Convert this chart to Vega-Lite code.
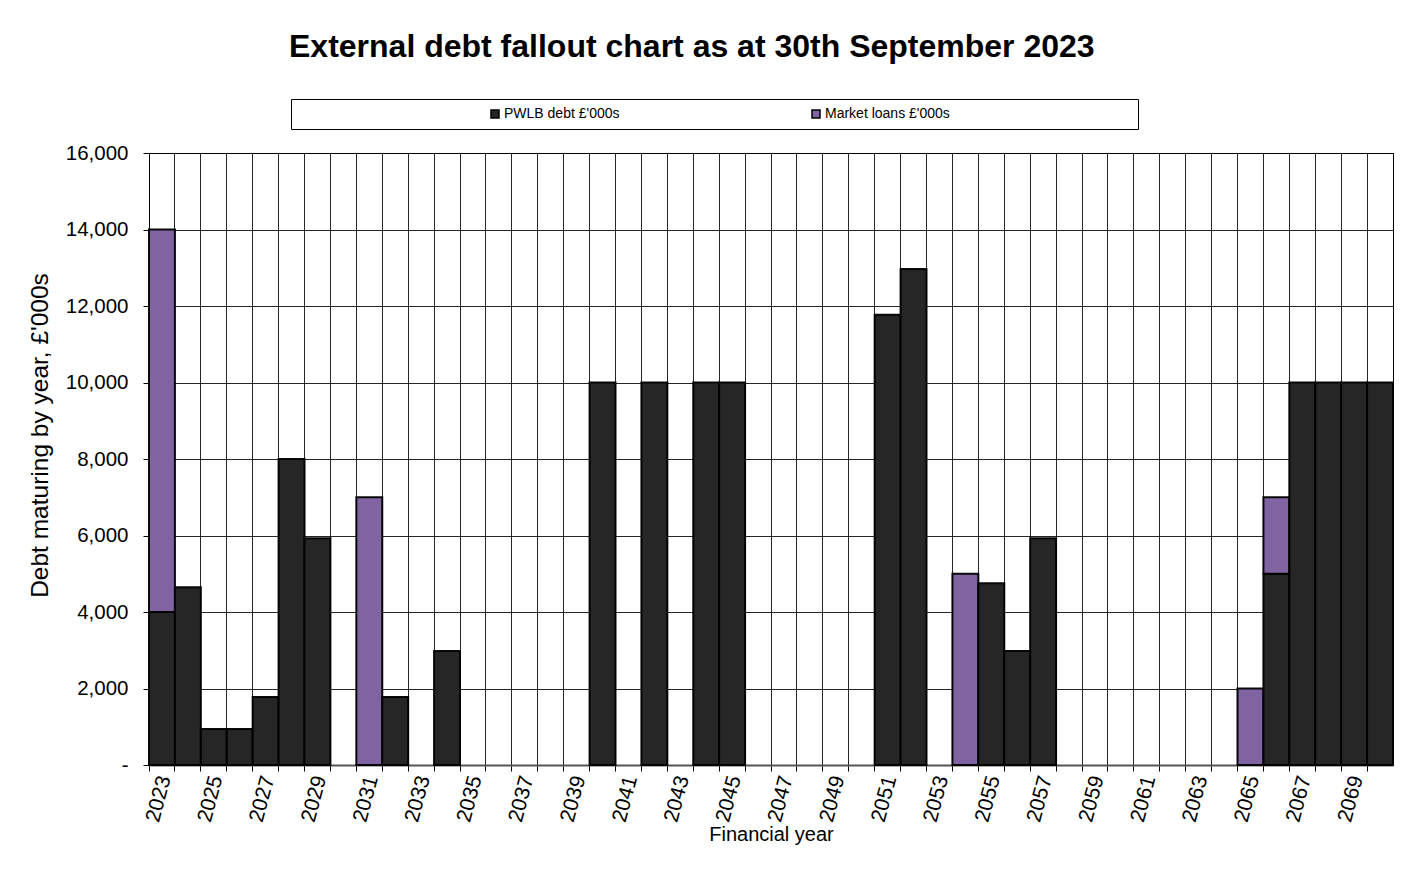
{
  "$schema": "https://vega.github.io/schema/vega-lite/v6.json",
  "width": 1244,
  "height": 612,
  "autosize": "none",
  "padding": {"left": 149, "top": 153, "right": 12, "bottom": 126},
  "background": "white",
  "title": {
    "text": "External debt fallout chart as at 30th September 2023",
    "font": "Liberation Sans",
    "fontSize": 32,
    "fontWeight": "bold",
    "color": "black",
    "anchor": "start",
    "frame": "group",
    "dx": 140,
    "baseline": "alphabetic",
    "offset": 10
  },
  "data": {
    "values": [
      {"year": 2023, "series": "PWLB debt £'000s", "value": 4000},
      {"year": 2023, "series": "Market loans £'000s", "value": 10000},
      {"year": 2024, "series": "PWLB debt £'000s", "value": 4650},
      {"year": 2025, "series": "PWLB debt £'000s", "value": 940},
      {"year": 2026, "series": "PWLB debt £'000s", "value": 940},
      {"year": 2027, "series": "PWLB debt £'000s", "value": 1780},
      {"year": 2028, "series": "PWLB debt £'000s", "value": 8000},
      {"year": 2029, "series": "PWLB debt £'000s", "value": 5930},
      {"year": 2031, "series": "Market loans £'000s", "value": 7000},
      {"year": 2032, "series": "PWLB debt £'000s", "value": 1780},
      {"year": 2034, "series": "PWLB debt £'000s", "value": 2980},
      {"year": 2040, "series": "PWLB debt £'000s", "value": 10000},
      {"year": 2042, "series": "PWLB debt £'000s", "value": 10000},
      {"year": 2044, "series": "PWLB debt £'000s", "value": 10000},
      {"year": 2045, "series": "PWLB debt £'000s", "value": 10000},
      {"year": 2051, "series": "PWLB debt £'000s", "value": 11770},
      {"year": 2052, "series": "PWLB debt £'000s", "value": 12970},
      {"year": 2054, "series": "Market loans £'000s", "value": 5000},
      {"year": 2055, "series": "PWLB debt £'000s", "value": 4750},
      {"year": 2056, "series": "PWLB debt £'000s", "value": 2980},
      {"year": 2057, "series": "PWLB debt £'000s", "value": 5930},
      {"year": 2065, "series": "Market loans £'000s", "value": 2000},
      {"year": 2066, "series": "PWLB debt £'000s", "value": 5000},
      {"year": 2066, "series": "Market loans £'000s", "value": 2000},
      {"year": 2067, "series": "PWLB debt £'000s", "value": 10000},
      {"year": 2068, "series": "PWLB debt £'000s", "value": 10000},
      {"year": 2069, "series": "PWLB debt £'000s", "value": 10000},
      {"year": 2070, "series": "PWLB debt £'000s", "value": 10000}
    ]
  },
  "mark": {"type": "bar", "stroke": "black", "strokeWidth": 2, "strokeOpacity": 0.95},
  "encoding": {
    "x": {
      "field": "year",
      "type": "ordinal",
      "scale": {
        "domain": [2023,2024,2025,2026,2027,2028,2029,2030,2031,2032,2033,2034,2035,2036,2037,2038,2039,2040,2041,2042,2043,2044,2045,2046,2047,2048,2049,2050,2051,2052,2053,2054,2055,2056,2057,2058,2059,2060,2061,2062,2063,2064,2065,2066,2067,2068,2069,2070],
        "paddingInner": 0,
        "paddingOuter": 0
      },
      "axis": {
        "title": "Financial year",
        "titleFont": "Liberation Sans",
        "titleFontSize": 20,
        "titleFontWeight": "normal",
        "titleColor": "black",
        "titleY": 75,
        "titleBaseline": "alphabetic",
        "bandPosition": 0,
        "grid": true,
        "gridColor": "black",
        "gridWidth": 1,
        "gridOpacity": 0.85,
        "domainColor": "#555555",
        "domainWidth": 2,
        "ticks": true,
        "tickColor": "black",
        "tickSize": 6,
        "labelFont": "Liberation Sans",
        "labelFontSize": 21,
        "labelColor": "black",
        "labelAngle": -75,
        "labelOffset": 3,
        "labelPadding": 5,
        "labelOverlap": false,
        "labelExpr": "(datum.value - 2023) % 2 == 0 ? datum.label : ''"
      }
    },
    "y": {
      "field": "value",
      "type": "quantitative",
      "stack": "zero",
      "scale": {"domain": [0, 16000], "nice": false},
      "axis": {
        "title": "Debt maturing by year, £'000s",
        "titleFont": "Liberation Sans",
        "titleFontSize": 24.5,
        "titleFontWeight": "normal",
        "titleColor": "black",
        "titlePadding": 13,
        "titleY": 282,
        "values": [0,2000,4000,6000,8000,10000,12000,14000,16000],
        "labelExpr": "datum.value == 0 ? '-' : format(datum.value, ',')",
        "labelFont": "Liberation Sans",
        "labelFontSize": 20.5,
        "labelColor": "black",
        "labelPadding": 15,
        "tickSize": 6,
        "tickColor": "black",
        "domainColor": "black",
        "grid": true,
        "gridColor": "black",
        "gridOpacity": 0.85,
        "gridWidth": 1
      }
    },
    "color": {
      "field": "series",
      "type": "nominal",
      "scale": {
        "domain": ["PWLB debt £'000s", "Market loans £'000s"],
        "range": ["#262626", "#8064A2"]
      },
      "legend": {
        "orient": "none",
        "legendX": 142,
        "legendY": -54,
        "direction": "horizontal",
        "columns": 2,
        "title": " ",
        "titleOrient": "right",
        "titlePadding": 180,
        "titleFontSize": 11,
        "strokeColor": "black",
        "fillColor": "white",
        "padding": 8,
        "symbolType": "square",
        "symbolSize": 64,
        "symbolStrokeColor": "black",
        "symbolStrokeWidth": 1.5,
        "symbolOffset": 189,
        "labelOffset": 2,
        "columnPadding": 0,
        "labelFont": "Liberation Sans",
        "labelFontSize": 14,
        "labelColor": "black",
        "labelLimit": 400
      }
    },
    "order": {"field": "series", "sort": "descending"}
  },
  "config": {
    "view": {"stroke": "black", "strokeWidth": 1},
    "font": "Liberation Sans"
  }
}
